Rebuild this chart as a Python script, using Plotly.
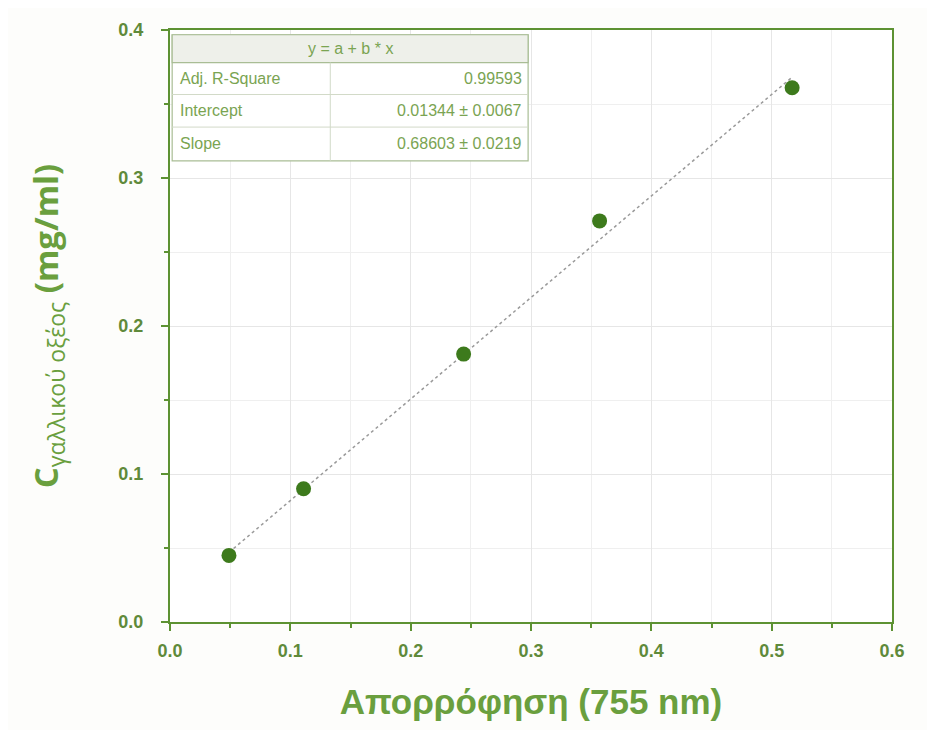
import plotly.graph_objects as go

absorbance = [0.049, 0.111, 0.244, 0.357, 0.517]
concentration = [0.045, 0.090, 0.181, 0.271, 0.361]
intercept = 0.01344
slope = 0.68603
table_header = "y = a + b * x"
table_labels = ["Adj. R-Square", "Intercept", "Slope"]
table_values = ["0.99593", "0.01344 ± 0.0067", "0.68603 ± 0.0219"]

GREEN = "#5d9232"
DARK = "#3d7a1c"
TEXT = "#6a9f3e"
TICKTXT = "#5f8a3a"
TABTXT = "#7aa452"

fit_x = [absorbance[0], absorbance[-1]]
fit_y = [intercept + slope * v for v in fit_x]

fig = go.Figure()
fig.add_trace(go.Scatter(x=fit_x, y=fit_y, mode="lines",
                         line=dict(color="#9a9a9a", width=1.5, dash="dot"),
                         showlegend=False, hoverinfo="skip"))
fig.add_trace(go.Scatter(x=absorbance, y=concentration, mode="markers",
                         marker=dict(color=DARK, size=15, symbol="circle"),
                         showlegend=False))

# Fit-results table drawn with shapes + annotations (paper coords = plot area)
tx0, tx1, tsplit = 0.003, 0.496, 0.222
ty_top, ty_head = 0.992, 0.945
row_bounds = [0.945, 0.891, 0.836, 0.779]
shapes = [
    dict(type="rect", xref="paper", yref="paper", x0=tx0, x1=tx1, y0=row_bounds[-1], y1=ty_top,
         fillcolor="white", line=dict(color="#a9bd95", width=1.2), layer="above"),
    dict(type="rect", xref="paper", yref="paper", x0=tx0, x1=tx1, y0=ty_head, y1=ty_top,
         fillcolor="#eef0ea", line=dict(color="#a9bd95", width=1.2), layer="above"),
    dict(type="line", xref="paper", yref="paper", x0=tsplit, x1=tsplit, y0=row_bounds[-1], y1=ty_head,
         line=dict(color="#d2dac8", width=1), layer="above"),
]
for yb in row_bounds[1:-1]:
    shapes.append(dict(type="line", xref="paper", yref="paper", x0=tx0, x1=tx1, y0=yb, y1=yb,
                       line=dict(color="#d2dac8", width=1), layer="above"))

annotations = [dict(xref="paper", yref="paper", x=(tx0 + tx1) / 2, y=(ty_top + ty_head) / 2,
                    text=table_header, showarrow=False, xanchor="center", yanchor="middle",
                    font=dict(family="Liberation Sans, Arial", size=16, color=TABTXT))]
for i, (lab, val) in enumerate(zip(table_labels, table_values)):
    yc = (row_bounds[i] + row_bounds[i + 1]) / 2
    annotations.append(dict(xref="paper", yref="paper", x=tx0 + 0.008, y=yc, text=lab,
                            showarrow=False, xanchor="left", yanchor="middle",
                            font=dict(family="Liberation Sans, Arial", size=16, color=TABTXT)))
    annotations.append(dict(xref="paper", yref="paper", x=tx1 - 0.006, y=yc, text=val,
                            showarrow=False, xanchor="right", yanchor="middle",
                            font=dict(family="Liberation Sans, Arial", size=16, color=TABTXT)))

axis_common = dict(
    showline=True, linecolor=GREEN, linewidth=2, mirror=True,
    ticks="outside", ticklen=7, tickwidth=2, tickcolor=GREEN,
    showgrid=True, gridcolor="#e6e6e6", gridwidth=1,
    tickfont=dict(family="Liberation Sans, Arial", size=18, color=TICKTXT, weight="bold"),
    zeroline=False,
    minor=dict(ticks="outside", ticklen=4, tickwidth=2, tickcolor=GREEN,
               showgrid=True, gridcolor="#efefef", dtick=0.05),
)

fig.update_xaxes(range=[0, 0.6], dtick=0.1, tickformat=".1f", ticklabelstandoff=4, **axis_common,
                 title=dict(text="<b>Απορρόφηση (755 nm)</b>",
                            font=dict(family="Liberation Sans, Arial", size=35, color=TEXT),
                            standoff=30))
fig.update_yaxes(range=[0, 0.4], dtick=0.1, tickformat=".1f", ticklabelstandoff=14, **axis_common,
                 title=dict(text="<b>C</b><sub>γαλλικού οξέος</sub> <b>(mg/ml)</b>",
                            font=dict(family="Open Sans, Liberation Sans", size=33, color=TEXT),
                            standoff=50))

fig.update_layout(
    width=935, height=730,
    margin=dict(l=162, r=51, t=17, b=116),
    plot_bgcolor="white", paper_bgcolor="#fdfdfb",
    font=dict(family="Liberation Sans, Arial", color=GREEN),
    shapes=shapes, annotations=annotations,
)

fig.write_html("out.html")
